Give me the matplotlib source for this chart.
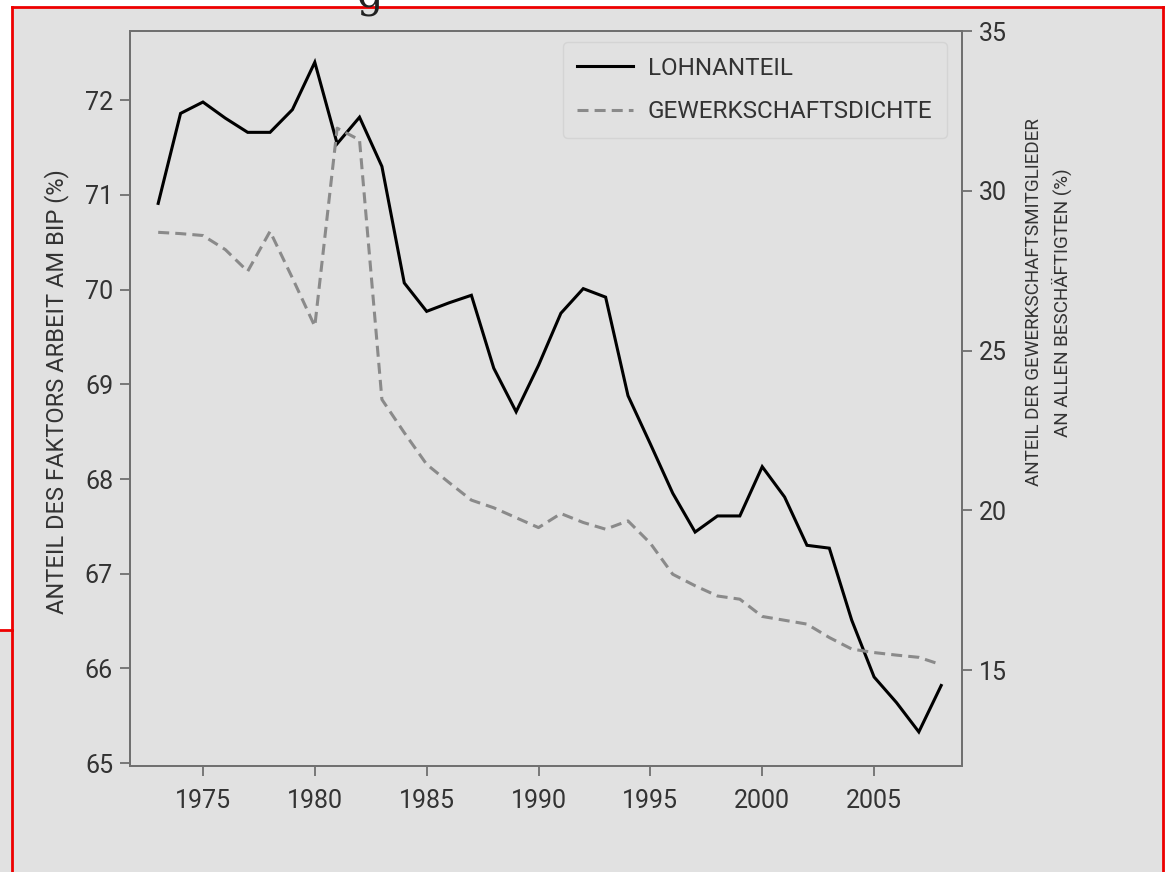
import matplotlib.pyplot as plt
from matplotlib.lines import Line2D
from matplotlib.patches import Rectangle

plt.rcParams['font.family'] = ['Roboto', 'DejaVu Sans']

# data
years = list(range(1973, 2009))
lohnanteil = [70.91, 71.86, 71.98, 71.81, 71.66, 71.66, 71.90, 72.40, 71.54, 71.82,
              71.30, 70.07, 69.77, 69.86, 69.94, 69.17, 68.71, 69.20, 69.75, 70.01,
              69.92, 68.88, 68.37, 67.85, 67.44, 67.61, 67.61, 68.13, 67.81, 67.30,
              67.27, 66.51, 65.91, 65.64, 65.33, 65.82]
gewerkschaft = [28.70, 28.66, 28.60, 28.16, 27.48, 28.73, 27.27, 25.76, 31.96, 31.59,
                23.47, 22.43, 21.44, 20.87, 20.32, 20.08, 19.77, 19.46, 19.90, 19.62,
                19.41, 19.67, 18.97, 18.00, 17.64, 17.32, 17.22, 16.68, 16.56, 16.44,
                16.02, 15.66, 15.55, 15.47, 15.40, 15.17]
x_ticks = [1975, 1980, 1985, 1990, 1995, 2000, 2005]
left_ticks = [65, 66, 67, 68, 69, 70, 71, 72]
right_ticks = [15, 20, 25, 30, 35]

BG = '#e1e1e1'
SPINE = '#707070'
TXT = '#333333'

fig = plt.figure(figsize=(11.65, 8.72), dpi=100, facecolor=BG)
ax = fig.add_axes([130 / 1165, 1 - 766 / 872, 832 / 1165, 735 / 872])
ax.set_facecolor(BG)
ax2 = ax.twinx()

l1, = ax.plot(years, lohnanteil, color='black', lw=2.2, solid_joinstyle='miter',
              label='LOHNANTEIL')
l2, = ax2.plot(years, gewerkschaft, color='#8a8a8a', lw=2.2, dashes=(3.6, 2),
               label='GEWERKSCHAFTSDICHTE')

ax.set_xlim(1971.74, 2008.93)
ax.set_ylim(64.97, 72.73)
ax2.set_ylim(12, 35)

ax.set_xticks(x_ticks)
ax.set_yticks(left_ticks)
ax2.set_yticks(right_ticks)

for a in (ax, ax2):
    for s in a.spines.values():
        s.set_color(SPINE)
        s.set_linewidth(1.3)
ax.tick_params(axis='both', colors=SPINE, labelcolor=TXT, length=7.2, width=1.3,
               labelsize=18)
ax.tick_params(axis='x', pad=9)
ax.tick_params(axis='y', pad=5)
ax2.tick_params(axis='y', colors=SPINE, labelcolor=TXT, length=7.2, width=1.3,
                labelsize=18, pad=5)

ax.text(-0.0877, 0.509, 'ANTEIL DES FAKTORS ARBEIT AM BIP (%)', transform=ax.transAxes,
        rotation=90, ha='center', va='center', fontsize=17, color=TXT)
ax.text(1.104, 0.631, 'ANTEIL DER GEWERKSCHAFTSMITGLIEDER\nAN ALLEN BESCHÄFTIGTEN (%)',
        transform=ax.transAxes, rotation=90, ha='center', va='center',
        multialignment='center', fontsize=13.6, color=TXT, linespacing=1.5)

leg = ax2.legend(handles=[l1, l2], loc='upper right', bbox_to_anchor=(0.982, 0.985),
                 borderaxespad=0, fontsize=17.5, handlelength=2.3, handletextpad=0.6,
                 labelspacing=0.85, borderpad=0.6, frameon=True, fancybox=True,
                 facecolor=BG, edgecolor='#d4d4d4', framealpha=1)
for t in leg.get_texts():
    t.set_color(TXT)

# cropped screenshot remains: partial title glyph and red frame
fig.text(0.318, 1.005, 'g', family='DejaVu Serif', fontsize=30, ha='center', va='center',
         color='#222222')
fig.add_artist(Rectangle((0, 1 - 7 / 872), 1, 7 / 872, transform=fig.transFigure,
                         facecolor='white', edgecolor='none'))
fig.add_artist(Rectangle((0, 1 - 630 / 872), 12 / 1165, 630 / 872, transform=fig.transFigure,
                         facecolor='white', edgecolor='none'))
red = dict(color='#ee0000', lw=2, transform=fig.transFigure)
fig.add_artist(Line2D([12 / 1165, 1], [1 - 7 / 872, 1 - 7 / 872], **red))
fig.add_artist(Line2D([12 / 1165, 12 / 1165], [0, 1 - 7 / 872], **red))
fig.add_artist(Line2D([1163 / 1165, 1163 / 1165], [0, 1 - 7 / 872], **red))
fig.add_artist(Line2D([0, 12 / 1165], [1 - 630 / 872, 1 - 630 / 872], **red))

fig.savefig('out.png', dpi=100, facecolor=BG)
